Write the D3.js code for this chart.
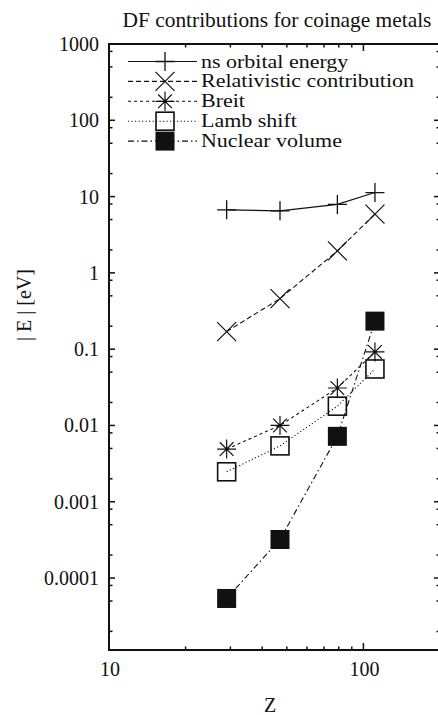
<!DOCTYPE html>
<html><head><meta charset="utf-8">
<script src="https://cdn.jsdelivr.net/npm/d3@7"></script>
<style>body{margin:0;background:#fff}svg{display:block}text{font-family:"Liberation Serif","DejaVu Serif",serif;fill:#111}</style>
</head><body><svg id="c" width="438" height="715"></svg>
<script>
const Z = [29, 47, 79, 111];
const nsOrbital = [6.7, 6.5, 7.9, 11.3];
const relativistic = [0.17, 0.46, 1.94, 5.9];
const breit = [0.0049, 0.010, 0.031, 0.092];
const lamb = [0.00247, 0.0054, 0.0179, 0.055];
const nuclear = [0.000054, 0.00032, 0.0072, 0.233];
const seriesNames = ["ns orbital energy", "Relativistic contribution", "Breit", "Lamb shift", "Nuclear volume"];
const xTickLabels = ["10", "100"];
const yTickLabels = ["1000", "100", "10", "1", "0.1", "0.01", "0.001", "0.0001"];
const title = "DF contributions for coinage metals";

const svg = d3.select("#c");
const L = 109, T = 44, B = 650;
const x = d3.scaleLog().domain([10, 200]).range([L, 440]);
const y = d3.scaleLog().domain([1.14e-5, 1000]).range([B, T]);
const R = x(200);
const ink = "#111";

// frame
svg.append("line").attr("x1", L).attr("x2", L).attr("y1", T).attr("y2", B).attr("stroke", ink).attr("stroke-width", 2);
svg.append("line").attr("x1", L - 1).attr("x2", R).attr("y1", B).attr("y2", B).attr("stroke", ink).attr("stroke-width", 2);
svg.append("line").attr("x1", L - 1).attr("x2", R).attr("y1", T).attr("y2", T).attr("stroke", ink).attr("stroke-width", 1.8);
svg.append("line").attr("x1", R).attr("x2", R).attr("y1", T).attr("y2", B).attr("stroke", ink).attr("stroke-width", 2);

// x ticks
const xMinor = [];
[10].forEach(d => { for (let k = 2; k <= 9; k++) xMinor.push(d * k); });
const xMajor = xTickLabels.map(Number);
const tk = svg.append("g").attr("stroke", ink).attr("stroke-width", 1.5);
xMajor.forEach(v => {
  tk.append("line").attr("x1", x(v)).attr("x2", x(v)).attr("y1", B).attr("y2", B - 7);
  tk.append("line").attr("x1", x(v)).attr("x2", x(v)).attr("y1", T).attr("y2", T + 7);
});
xMinor.forEach(v => {
  tk.append("line").attr("x1", x(v)).attr("x2", x(v)).attr("y1", B).attr("y2", B - 3.5);
  tk.append("line").attr("x1", x(v)).attr("x2", x(v)).attr("y1", T).attr("y2", T + 3.5);
});
// y ticks
const yMajor = yTickLabels.map(Number);
const yMinor = [];
for (let e = -5; e <= 2; e++) [2, 5, 8].forEach(k => { const v = k * Math.pow(10, e); if (v > y.domain()[0]) yMinor.push(v); });
yMajor.forEach(v => {
  tk.append("line").attr("x1", L).attr("x2", L + 6).attr("y1", y(v)).attr("y2", y(v));
  tk.append("line").attr("x1", R).attr("x2", R - 6).attr("y1", y(v)).attr("y2", y(v));
});
yMinor.forEach(v => {
  tk.append("line").attr("x1", L).attr("x2", L + 3.5).attr("y1", y(v)).attr("y2", y(v));
  tk.append("line").attr("x1", R).attr("x2", R - 3.5).attr("y1", y(v)).attr("y2", y(v));
});

// tick labels
yTickLabels.forEach(s => {
  svg.append("text").attr("x", 99).attr("y", y(+s) + 7).attr("text-anchor", "end").attr("font-size", 20).text(s);
});
xTickLabels.forEach(s => {
  svg.append("text").attr("x", x(+s) + 1).attr("y", 676).attr("text-anchor", "middle").attr("font-size", 20).text(s);
});
svg.append("text").attr("x", 270).attr("y", 712).attr("text-anchor", "middle").attr("font-size", 20).text("Z");
svg.append("text").attr("transform", "translate(31,305) rotate(-90)").attr("text-anchor", "middle").attr("font-size", 20).text("| E | [eV]");
svg.append("text").attr("x", 277).attr("y", 27).attr("text-anchor", "middle").attr("font-size", 21.4).text(title);

// markers
function marker(g, type, cx, cy) {
  const h = 9.5;
  if (type === "plus") {
    g.append("path").attr("d", `M${cx - h},${cy}H${cx + h}M${cx},${cy - h}V${cy + h}`).attr("stroke", ink).attr("stroke-width", 1.3).attr("fill", "none");
  } else if (type === "cross") {
    g.append("path").attr("d", `M${cx - h},${cy - h}L${cx + h},${cy + h}M${cx - h},${cy + h}L${cx + h},${cy - h}`).attr("stroke", ink).attr("stroke-width", 1.2).attr("fill", "none");
  } else if (type === "star") {
    const d = h * 0.72;
    g.append("path").attr("d", `M${cx - h},${cy}H${cx + h}M${cx},${cy - h}V${cy + h}M${cx - d},${cy - d}L${cx + d},${cy + d}M${cx - d},${cy + d}L${cx + d},${cy - d}`).attr("stroke", ink).attr("stroke-width", 1.2).attr("fill", "none");
  } else if (type === "square") {
    g.append("rect").attr("x", cx - h + 0.5).attr("y", cy - h + 0.5).attr("width", 2 * h - 1).attr("height", 2 * h - 1).attr("stroke", ink).attr("stroke-width", 1.6).attr("fill", "none");
  } else if (type === "filled") {
    g.append("rect").attr("x", cx - h).attr("y", cy - h).attr("width", 2 * h).attr("height", 2 * h).attr("fill", ink);
  }
}

const series = [
  { vals: nsOrbital, type: "plus", dash: null },
  { vals: relativistic, type: "cross", dash: "5,3" },
  { vals: breit, type: "star", dash: "3,3" },
  { vals: lamb, type: "square", dash: "1.2,2.3" },
  { vals: nuclear, type: "filled", dash: "6,3,1.5,3" }
];
const line = d3.line().x(d => x(d[0])).y(d => y(d[1]));
series.forEach((s, i) => {
  const pts = Z.map((z, j) => [z, s.vals[j]]);
  const g = svg.append("g");
  g.append("path").attr("d", line(pts)).attr("fill", "none").attr("stroke", ink).attr("stroke-width", 1.1).attr("stroke-dasharray", s.dash);
  pts.forEach(p => marker(g, s.type, x(p[0]), y(p[1])));
  // legend
  const ly = 61.5 + i * 19.9;
  const lg = svg.append("g");
  lg.append("line").attr("x1", 128).attr("x2", 197).attr("y1", ly).attr("y2", ly).attr("stroke", ink).attr("stroke-width", 1.1).attr("stroke-dasharray", s.dash);
  marker(lg, s.type, 165, ly);
  const t = lg.append("text").attr("x", 201).attr("y", ly + 6).attr("font-size", 17.8).text(seriesNames[i]);
  const w = t.node().getComputedTextLength();
  t.attr("textLength", w * 22 / 17.8).attr("lengthAdjust", "spacingAndGlyphs");
});
</script></body></html>
